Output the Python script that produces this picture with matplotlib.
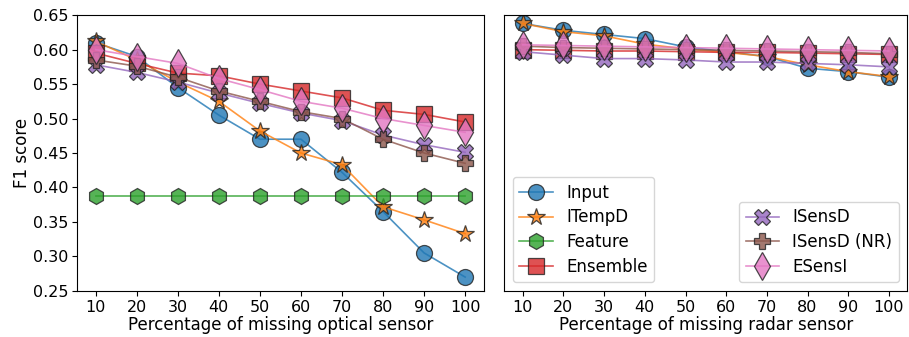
import matplotlib
matplotlib.use("Agg")
import matplotlib.pyplot as plt

# percentage of missing sensor data
missing = [10, 20, 30, 40, 50, 60, 70, 80, 90, 100]

# F1 scores, missing optical sensor
opt_input = [0.610, 0.590, 0.545, 0.505, 0.470, 0.470, 0.422, 0.365, 0.305, 0.270]
opt_itempd = [0.612, 0.585, 0.553, 0.525, 0.482, 0.450, 0.433, 0.372, 0.353, 0.333]
opt_feature = [0.387, 0.387, 0.387, 0.387, 0.387, 0.387, 0.387, 0.387, 0.387, 0.387]
opt_ensemble = [0.595, 0.580, 0.566, 0.562, 0.550, 0.540, 0.530, 0.512, 0.506, 0.495]
opt_isensd = [0.578, 0.567, 0.553, 0.537, 0.522, 0.508, 0.497, 0.476, 0.462, 0.451]
opt_isensd_nr = [0.585, 0.576, 0.560, 0.540, 0.525, 0.510, 0.500, 0.470, 0.450, 0.435]
opt_esensi = [0.600, 0.590, 0.580, 0.558, 0.542, 0.525, 0.515, 0.500, 0.490, 0.480]

# F1 scores, missing radar sensor
rad_input = [0.638, 0.628, 0.622, 0.616, 0.604, 0.597, 0.590, 0.573, 0.568, 0.560]
rad_itempd = [0.638, 0.626, 0.620, 0.608, 0.601, 0.596, 0.590, 0.578, 0.568, 0.561]
rad_ensemble = [0.600, 0.599, 0.598, 0.598, 0.597, 0.596, 0.596, 0.595, 0.594, 0.593]
rad_isensd = [0.597, 0.592, 0.587, 0.587, 0.585, 0.582, 0.582, 0.580, 0.578, 0.575]
rad_isensd_nr = [0.605, 0.603, 0.602, 0.601, 0.600, 0.599, 0.598, 0.597, 0.596, 0.594]
rad_esensi = [0.607, 0.606, 0.605, 0.604, 0.603, 0.602, 0.601, 0.600, 0.599, 0.598]

# marker, colour, marker size
styles = {
    "Input": ("o", "tab:blue", 11.5),
    "ITempD": ("*", "tab:orange", 13),
    "Feature": ("h", "tab:green", 11.5),
    "Ensemble": ("s", "tab:red", 11),
    "ISensD": ("X", "tab:purple", 11.5),
    "ISensD (NR)": ("P", "tab:brown", 11.5),
    "ESensI": ("d", "tab:pink", 14),
}


def draw(ax, name, values):
    marker, color, size = styles[name]
    line, = ax.plot(missing, values, marker=marker, color=color, markersize=size,
                    markeredgecolor="#222222", markeredgewidth=0.9, linewidth=1.2,
                    alpha=0.8, label=name)
    return line


plt.rcParams["font.size"] = 12
fig = plt.figure(figsize=(9.09, 3.37), dpi=100)
ax1 = fig.add_axes([0.085, 0.137, 0.447, 0.818])
ax2 = fig.add_axes([0.555, 0.137, 0.443, 0.818], sharey=ax1)

h = []
h.append(draw(ax1, "Input", opt_input))
h.append(draw(ax1, "ITempD", opt_itempd))
h.append(draw(ax1, "Feature", opt_feature))
h.append(draw(ax1, "Ensemble", opt_ensemble))
h.append(draw(ax1, "ISensD", opt_isensd))
h.append(draw(ax1, "ISensD (NR)", opt_isensd_nr))
h.append(draw(ax1, "ESensI", opt_esensi))

draw(ax2, "Input", rad_input)
draw(ax2, "ITempD", rad_itempd)
draw(ax2, "Ensemble", rad_ensemble)
draw(ax2, "ISensD", rad_isensd)
draw(ax2, "ISensD (NR)", rad_isensd_nr)
draw(ax2, "ESensI", rad_esensi)

ax1.set_ylim(0.25, 0.65)
ax1.set_ylabel("F1 score", labelpad=1)
ax1.set_xlabel("Percentage of missing optical sensor", labelpad=1)
ax2.set_xlabel("Percentage of missing radar sensor", labelpad=1)
for ax in (ax1, ax2):
    ax.set_xticks(missing)
    ax.tick_params(labelsize=11.5, pad=3)
ax2.tick_params(left=False, labelleft=False)

leg1 = ax2.legend(handles=h[:4], loc="lower left", fontsize=12, labelspacing=0.4)
ax2.add_artist(leg1)
ax2.legend(handles=h[4:], loc="lower right", fontsize=12, labelspacing=0.4)

fig.savefig("out.png", dpi=100)
